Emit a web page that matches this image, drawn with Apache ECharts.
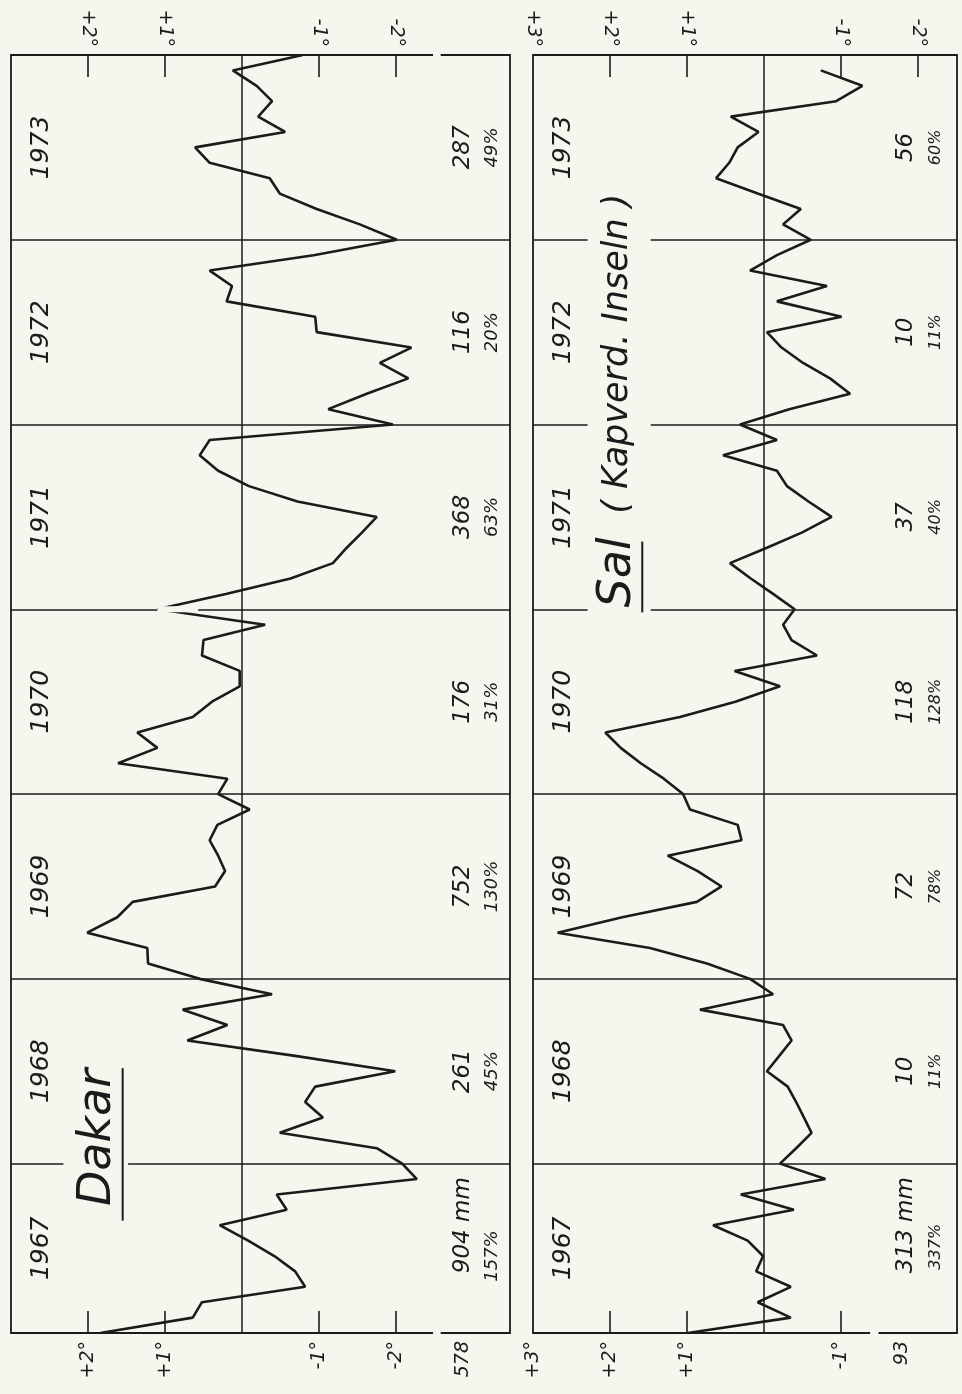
<!DOCTYPE html>
<html>
<head>
<meta charset="utf-8">
<script src="https://cdn.jsdelivr.net/npm/echarts@6/dist/echarts.min.js"></script>
<style>
  html, body { margin: 0; padding: 0; background: #f6f5ee; }
  #chart { width: 962px; height: 1394px; }
</style>
</head>
<body>
<div id="chart"></div>
<script>
// monthly temperature anomaly (deg C), bottom of the sheet = first month of 1967
const dakarAnom = [
  1.84, 0.64, 0.52, -0.82, -0.69, -0.42, -0.08, 0.29, -0.58, -0.45, -2.27, -2.08,
  -1.75, -0.49, -1.05, -0.82, -0.95, -1.99, -0.69, 0.71, 0.19, 0.77, -0.39, 0.55,
  1.22, 1.23, 2.01, 1.62, 1.42, 0.35, 0.22, 0.31, 0.42, 0.32, -0.10, 0.31,
  0.19, 1.61, 1.10, 1.36, 0.64, 0.39, 0.03, 0.03, 0.52, 0.50, -0.30, 1.10,
  0.21, -0.63, -1.18, -1.36, -1.56, -1.75, -0.72, -0.09, 0.31, 0.55, 0.42, -1.96,
  -1.12, -1.62, -2.16, -1.79, -2.20, -0.97, -0.95, 0.20, 0.13, 0.42, -0.93, -2.01,
  -1.53, -0.97, -0.49, -0.36, 0.42, 0.61, -0.56, -0.21, -0.39, -0.19, 0.12, -0.79
];
const salAnom = [
  0.99, -0.35, 0.08, -0.35, 0.10, 0.01, 0.21, 0.66, -0.39, 0.30, -0.80, -0.21,
  -0.42, -0.62, -0.52, -0.42, -0.31, -0.04, -0.20, -0.36, -0.25, 0.83, -0.12, 0.18,
  0.74, 1.48, 2.68, 1.84, 0.87, 0.55, 0.86, 1.25, 0.29, 0.34, 0.96, 1.05,
  1.30, 1.60, 1.86, 2.06, 1.09, 0.37, -0.21, 0.38, -0.69, -0.36, -0.25, -0.40,
  -0.12, 0.17, 0.44, -0.04, -0.50, -0.88, -0.58, -0.30, -0.17, 0.53, -0.17, 0.31,
  -0.33, -1.12, -0.86, -0.51, -0.23, -0.04, -1.01, -0.17, -0.82, 0.18, -0.17, -0.61,
  -0.25, -0.48, 0.08, 0.62, 0.45, 0.34, 0.07, 0.43, -0.94, -1.28, -0.74
];
const years = ['1967', '1968', '1969', '1970', '1971', '1972', '1973'];
const yearBounds = [12, 24, 36, 48, 60, 72];
const yearMid = [6.5, 18, 30, 42, 54, 66, 78];
const dakarRain = ['904 mm', '261', '752', '176', '368', '116', '287'];
const dakarRainPct = ['157%', '45%', '130%', '31%', '63%', '20%', '49%'];
const salRain = ['313 mm', '10', '72', '118', '37', '10', '56'];
const salRainPct = ['337%', '11%', '78%', '128%', '40%', '11%', '60%'];
const degTicks = [2, 1, -1, -2];
const salBottomTicks = [2, 1, -1];
const dakarBottomLabels = [[2, '+2°'], [1, '+1°'], [-1, '-1°'], [-2, '-2°'], [-2.87, '578']];
const dakarTopLabels = [[2, '+2°'], [1, '+1°'], [-1, '-1°'], [-2, '-2°']];
const salBottomLabels = [[3, '+3°'], [2, '+2°'], [1, '+1°'], [-1, '-1°'], [-1.8, '93']];
const salTopLabels = [[3, '+3°'], [2, '+2°'], [1, '+1°'], [-1, '-1°'], [-2, '-2°']];

const bg = '#f6f5ee';
const ink = '#1b1b1b';
const FONT = '"DejaVu Sans"';
const chart = echarts.init(document.getElementById('chart'));

function axisX(grid, pos, range, ticks, labels) {
  return {
    gridIndex: grid, type: 'value', position: pos, inverse: true,
    min: range[0], max: range[1],
    axisLine: {show: false},
    splitLine: {show: false},
    axisTick: {show: true, inside: true, length: 22, customValues: ticks,
      lineStyle: {color: ink, width: 1.6}},
    axisLabel: {
      show: true, rotate: 90, margin: 8,
      customValues: labels.map(l => l[0]),
      formatter: v => {
        const f = labels.find(l => Math.abs(l[0] - v) < 1e-6);
        return f ? f[1] : '';
      },
      color: ink, fontSize: 19, fontStyle: 'italic', fontFamily: FONT
    }
  };
}

function lineSeries(idx, data) {
  return {
    type: 'line', xAxisIndex: idx * 2, yAxisIndex: idx,
    data: data.map((v, i) => [v, i + 1]),
    showSymbol: false, symbol: 'none',
    lineStyle: {color: ink, width: 2.6},
    markLine: {
      silent: true, symbol: 'none', label: {show: false},
      lineStyle: {color: ink, width: 1.5, type: 'solid'},
      data: [{xAxis: 0}].concat(yearBounds.map(t => ({yAxis: t})))
    }
  };
}

const option = {
  backgroundColor: bg,
  animation: false,
  grid: [
    {left: 11, top: 55, width: 499, height: 1278, show: true, borderColor: ink, borderWidth: 1.8},
    {left: 533, top: 55, width: 424, height: 1278, show: true, borderColor: ink, borderWidth: 1.8}
  ],
  xAxis: [
    axisX(0, 'bottom', [-3.48, 3], degTicks, dakarBottomLabels),
    axisX(0, 'top', [-3.48, 3], degTicks, dakarTopLabels),
    axisX(1, 'bottom', [-2.51, 3], salBottomTicks, salBottomLabels),
    axisX(1, 'top', [-2.51, 3], degTicks, salTopLabels)
  ],
  yAxis: [
    {gridIndex: 0, type: 'value', min: 1, max: 84, show: false},
    {gridIndex: 1, type: 'value', min: 1, max: 84, show: false}
  ],
  series: [lineSeries(0, dakarAnom), lineSeries(1, salAnom)]
};
chart.setOption(option);

// texts and small covers, placed through the series' own scales
function px(s, x, t) { return chart.convertToPixel({seriesIndex: s}, [x, t]); }
const els = [];
function text(s, x, t, str, size, extra) {
  const p = px(s, x, t);
  els.push({type: 'text', x: p[0], y: p[1], rotation: Math.PI / 2, z: 100,
    style: Object.assign({text: str, font: 'italic ' + size + 'px ' + FONT, fill: ink,
      align: 'center', verticalAlign: 'middle'}, extra || {})});
}
function cover(s, x1, x2, t, h) {
  const a = px(s, x1, t), b = px(s, x2, t);
  els.push({type: 'rect', z: 90, shape: {x: Math.min(a[0], b[0]), y: a[1] - h / 2,
    width: Math.abs(b[0] - a[0]), height: h}, style: {fill: bg}});
}
function underline(s, x, t1, t2) {
  const a = px(s, x, t1), b = px(s, x, t2);
  els.push({type: 'line', z: 100, shape: {x1: a[0], y1: a[1], x2: b[0], y2: b[1]},
    style: {stroke: ink, lineWidth: 2}});
}

years.forEach((y, i) => {
  text(0, 2.6, yearMid[i], y, 25);
  text(1, 2.6, yearMid[i], y, 25);
  const m = i === 0 ? 8 : yearMid[i];
  text(0, -2.87, m, dakarRain[i], 23);
  text(0, -3.25, i === 0 ? 6 : yearMid[i], dakarRainPct[i], 18);
  text(1, -1.85, m, salRain[i], 23);
  text(1, -2.24, i === 0 ? 6.6 : yearMid[i], salRainPct[i], 16);
});

// frame gaps separating the rainfall column
cover(0, -2.48, -2.58, 1, 6);
cover(0, -2.48, -2.58, 84, 6);
cover(1, -1.38, -1.49, 1, 6);
// year-line gaps around station names
cover(0, 2.32, 1.48, 12, 6);
cover(0, 1.10, 0.57, 48, 6);
cover(1, 2.29, 1.47, 48, 6);
cover(1, 2.29, 1.47, 60, 6);
cover(1, 2.29, 1.47, 72, 6);

text(0, 1.87, 13.7, 'Dakar', 46);
underline(0, 1.55, 8.3, 18.2);
text(1, 1.9, 50.4, 'Sal', 46);
underline(1, 1.58, 47.8, 52.4);
text(1, 1.9, 64.6, '( Kapverd. Inseln )', 35);

chart.setOption({graphic: {elements: els}});
</script>
</body>
</html>
